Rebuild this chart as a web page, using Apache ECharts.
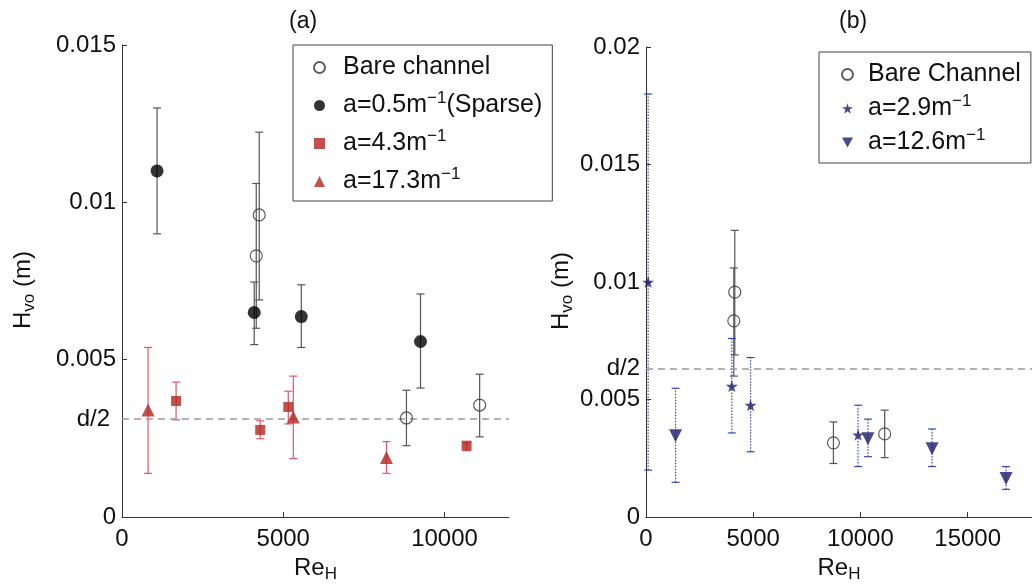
<!DOCTYPE html>
<html>
<head>
<meta charset="utf-8">
<script src="https://cdn.jsdelivr.net/npm/echarts@6/dist/echarts.min.js"></script>
<style>
html,body{margin:0;padding:0;background:#fff;}
#chart{width:1032px;height:588px;}
</style>
</head>
<body>
<div id="chart"></div>
<script>
// ---------- Panel (a) data ----------
const bareA_x  = [4163, 4255, 8820, 11090];
const bareA_y  = [0.0083, 0.0096, 0.00315, 0.00356];
const bareA_lo = [0.0060, 0.0069, 0.00227, 0.00255];
const bareA_hi = [0.0106, 0.01223, 0.00403, 0.00454];

const sparse_x  = [1087, 4100, 5560, 9256];
const sparse_y  = [0.0110, 0.0065, 0.00637, 0.00558];
const sparse_lo = [0.0090, 0.00548, 0.00539, 0.0041];
const sparse_hi = [0.0130, 0.00747, 0.00738, 0.00709];

const a43_x  = [1677, 4286, 5156, 10685];
const a43_y  = [0.00369, 0.00277, 0.0035, 0.00227];
const a43_lo = [0.00309, 0.00249, 0.00296, 0.00211];
const a43_hi = [0.00429, 0.00306, 0.0040, 0.00236];

const a173_x  = [808, 5311, 8200];
const a173_y  = [0.0034, 0.00318, 0.00189];
const a173_lo = [0.00139, 0.00186, 0.00139];
const a173_hi = [0.00539, 0.00448, 0.0024];

const halfDepthA = 0.00312;

// ---------- Panel (b) data ----------
const bareB_x  = [4094, 4140, 8740, 11130];
const bareB_y  = [0.00835, 0.00957, 0.00316, 0.00354];
const bareB_lo = [0.0060, 0.0069, 0.00228, 0.00253];
const bareB_hi = [0.0106, 0.0122, 0.00405, 0.00455];

const a29_x  = [100, 4002, 4876, 9890];
const a29_y  = [0.0100, 0.00557, 0.00476, 0.0035];
const a29_lo = [0.0020, 0.00358, 0.00278, 0.00215];
const a29_hi = [0.0180, 0.0076, 0.00679, 0.00476];

const a126_x  = [1380, 10350, 13340, 16790];
const a126_y  = [0.00346, 0.00333, 0.00291, 0.00164];
const a126_lo = [0.00148, 0.00257, 0.00215, 0.00118];
const a126_hi = [0.00548, 0.00417, 0.00375, 0.00215];

const halfDepthB = 0.00633;

// tick values
const xTicksA = [0, 5000, 10000];
const xTicksB = [0, 5000, 10000, 15000];

// ---------- helpers ----------
const FONT = '"Liberation Sans", Arial, Helvetica, sans-serif';
const pts = (xs, ys) => xs.map((x, i) => [x, ys[i]]);
const bars = (xs, lo, hi) => xs.map((x, i) => [x, lo[i], hi[i]]);

const STAR = 'path://M50,0 L61,35 L98,35 L68,57 L79,91 L50,70 L21,91 L32,57 L2,35 L39,35 Z';
const TRI_DOWN = 'path://M0,0 L100,0 L50,90 Z';

function errSeries(data, axis, color, dashed) {
  return {
    type: 'custom',
    xAxisIndex: axis, yAxisIndex: axis,
    silent: true, z: 1,
    encode: { x: 0, y: [1, 2] },
    data: data,
    renderItem: function (params, api) {
      const x = api.value(0);
      const p1 = api.coord([x, api.value(1)]);
      const p2 = api.coord([x, api.value(2)]);
      const cw = 4;
      const style = { stroke: color, lineWidth: 1.2, lineDash: dashed ? [1.5, 1.5] : null };
      return {
        type: 'group',
        children: [
          { type: 'line', shape: { x1: p1[0], y1: p1[1], x2: p2[0], y2: p2[1] }, style: style },
          { type: 'line', shape: { x1: p1[0] - cw, y1: p1[1], x2: p1[0] + cw, y2: p1[1] }, style: { stroke: color, lineWidth: 1.2 } },
          { type: 'line', shape: { x1: p2[0] - cw, y1: p2[1], x2: p2[0] + cw, y2: p2[1] }, style: { stroke: color, lineWidth: 1.2 } }
        ]
      };
    }
  };
}

function richSet(fs) {
  return {
    sp:  { width: 1 },
    n:   { fontSize: fs, fontFamily: FONT, color: '#111', lineHeight: fs + 6, verticalAlign: 'middle' },
    sup: { fontSize: Math.round(fs * 0.68), fontFamily: FONT, color: '#111', lineHeight: 14, verticalAlign: 'top' },
    sub: { fontSize: Math.round(fs * 0.72), fontFamily: FONT, color: '#111', lineHeight: 14, verticalAlign: 'bottom' }
  };
}

function yAxisCfg(idx, max, gap) {
  return {
    type: 'value', gridIndex: idx, min: 0, max: max, interval: 0.005,
    name: '{n|H}{sub|vo}{n| (m)}', nameLocation: 'middle', nameGap: gap,
    nameTextStyle: { rich: richSet(24), padding: [0, 18, 0, 0] },
    axisLine: { show: true, lineStyle: { color: '#333', width: 1 } },
    axisTick: { show: true, inside: true, length: 5, lineStyle: { color: '#333' } },
    splitLine: { show: false },
    axisLabel: { color: '#111', fontSize: 24, fontFamily: FONT, margin: 6,
      formatter: v => (v === 0 ? '0' : String(+v.toFixed(3))) }
  };
}
function xAxisCfg(idx, max, ticks) {
  return {
    type: 'value', gridIndex: idx, min: 0, max: max, interval: 5000,
    name: '{n|Re}{sub|H}', nameLocation: 'middle', nameGap: 29,
    nameTextStyle: { rich: richSet(24) },
    axisLine: { show: true, lineStyle: { color: '#333', width: 1 } },
    axisTick: { show: true, inside: true, length: 5, customValues: ticks, lineStyle: { color: '#333' } },
    splitLine: { show: false },
    axisLabel: { color: '#111', fontSize: 24, fontFamily: FONT, margin: 10, customValues: ticks,
      formatter: v => String(v) }
  };
}

function dLine(val, dist) {
  return {
    silent: true, symbol: 'none', precision: 6,
    lineStyle: { color: '#9a9a9a', type: [7, 5], width: 1.6 },
    label: { show: true, position: 'start', formatter: 'd/2', color: '#111', fontSize: 24, fontFamily: FONT, distance: dist },
    data: [{ yAxis: val }]
  };
}

const RED = '#b3261e', RED_BAR = '#e2566a';
const NAVY = '#1b1b6e', BLUE_BAR = '#3a4bb0';

const option = {
  animation: false,
  backgroundColor: '#fff',
  textStyle: { fontFamily: FONT },
  title: [
    { text: '(a)', left: 284, top: 5, textStyle: { fontSize: 23, fontWeight: 'normal', color: '#111', fontFamily: FONT } },
    { text: '(b)', left: 834, top: 5, textStyle: { fontSize: 23, fontWeight: 'normal', color: '#111', fontFamily: FONT } }
  ],
  grid: [
    { left: 122, top: 45, width: 387, height: 476 },
    { left: 646, top: 47, width: 391, height: 474 }
  ],
  xAxis: [xAxisCfg(0, 12000, xTicksA), xAxisCfg(1, 18000, xTicksB)],
  yAxis: [yAxisCfg(0, 0.015, 84), yAxisCfg(1, 0.02, 62)],
  legend: [
    {
      orient: 'vertical', left: 293, top: 45,
      data: ['Bare channel', 'a=0.5', 'a=4.3', 'a=17.3'],
      borderColor: '#444', borderWidth: 1, padding: [10, 10, 7, 20],
      itemGap: 10, itemWidth: 11, itemHeight: 11,
      textStyle: { rich: Object.assign(richSet(25), { sp: { width: 13 } }) },
      formatter: function (name) {
        if (name === 'Bare channel') return '{sp|}{n|Bare channel}';
        if (name === 'a=0.5') return '{sp|}{n|a=0.5m}{sup|−1}{n|(Sparse)}';
        if (name === 'a=4.3') return '{sp|}{n|a=4.3m}{sup|−1}';
        return '{sp|}{n|a=17.3m}{sup|−1}';
      }
    },
    {
      orient: 'vertical', left: 819, top: 52,
      data: ['Bare Channel', 'a=2.9', 'a=12.6'],
      borderColor: '#444', borderWidth: 1, padding: [10, 10, 8, 22],
      itemGap: 6, itemWidth: 11, itemHeight: 11,
      textStyle: { rich: Object.assign(richSet(25), { sp: { width: 10 } }) },
      formatter: function (name) {
        if (name === 'Bare Channel') return '{sp|}{n|Bare Channel}';
        if (name === 'a=2.9') return '{sp|}{n|a=2.9m}{sup|−1}';
        return '{sp|}{n|a=12.6m}{sup|−1}';
      }
    }
  ],
  series: [
    // error bars (a)
    errSeries(bars(sparse_x, sparse_lo, sparse_hi), 0, '#555', false),
    errSeries(bars(bareA_x, bareA_lo, bareA_hi), 0, '#555', false),
    errSeries(bars(a43_x, a43_lo, a43_hi), 0, RED_BAR, false),
    errSeries(bars(a173_x, a173_lo, a173_hi), 0, RED_BAR, false),
    // markers (a)
    { name: 'Bare channel', type: 'scatter', xAxisIndex: 0, yAxisIndex: 0, z: 5,
      symbol: 'circle', symbolSize: 12, data: pts(bareA_x, bareA_y),
      itemStyle: { color: 'rgba(255,255,255,0)', borderColor: '#333', borderWidth: 1.2 },
      markLine: dLine(halfDepthA, 12) },
    { name: 'a=0.5', type: 'scatter', xAxisIndex: 0, yAxisIndex: 0, z: 5,
      symbol: 'circle', symbolSize: 13, data: pts(sparse_x, sparse_y),
      itemStyle: { color: '#000' } },
    { name: 'a=4.3', type: 'scatter', xAxisIndex: 0, yAxisIndex: 0, z: 5,
      symbol: 'rect', symbolSize: 10, data: pts(a43_x, a43_y),
      itemStyle: { color: RED } },
    { name: 'a=17.3', type: 'scatter', xAxisIndex: 0, yAxisIndex: 0, z: 5,
      symbol: 'triangle', symbolSize: 13, data: pts(a173_x, a173_y),
      itemStyle: { color: RED } },
    // error bars (b)
    errSeries(bars(bareB_x, bareB_lo, bareB_hi), 1, '#555', false),
    errSeries(bars(a29_x, a29_lo, a29_hi), 1, BLUE_BAR, true),
    errSeries(bars(a126_x, a126_lo, a126_hi), 1, BLUE_BAR, true),
    // markers (b)
    { name: 'Bare Channel', type: 'scatter', xAxisIndex: 1, yAxisIndex: 1, z: 5,
      symbol: 'circle', symbolSize: 12, data: pts(bareB_x, bareB_y),
      itemStyle: { color: 'rgba(255,255,255,0)', borderColor: '#333', borderWidth: 1.2 },
      markLine: dLine(halfDepthB, 6) },
    { name: 'a=2.9', type: 'scatter', xAxisIndex: 1, yAxisIndex: 1, z: 5,
      symbol: STAR, symbolSize: 12, data: pts(a29_x, a29_y),
      itemStyle: { color: NAVY } },
    { name: 'a=12.6', type: 'scatter', xAxisIndex: 1, yAxisIndex: 1, z: 5,
      symbol: TRI_DOWN, symbolSize: 13, data: pts(a126_x, a126_y),
      itemStyle: { color: NAVY } }
  ]
};

const chart = echarts.init(document.getElementById('chart'), null, { renderer: 'canvas' });
chart.setOption(option);
</script>
</body>
</html>
